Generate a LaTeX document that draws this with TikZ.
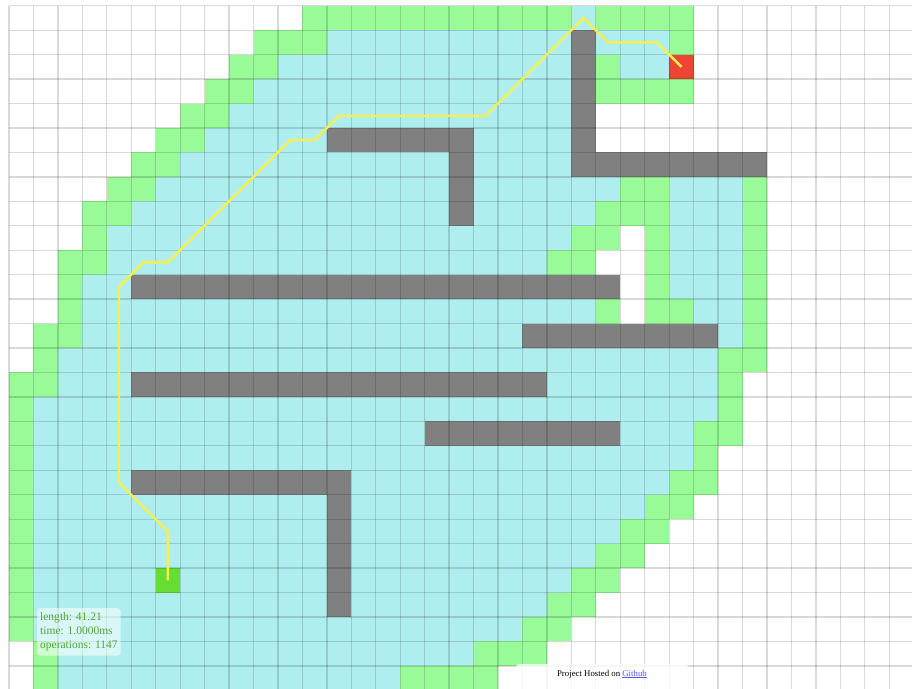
\documentclass[tikz,border=0pt]{standalone}
\usepackage{fontspec}
\setmainfont{Liberation Serif}
\usepackage{tikz}
\usetikzlibrary{positioning}
\definecolor{opengreen}{HTML}{98FB98}
\definecolor{closedcyan}{HTML}{AFEEEE}
\definecolor{wallgrey}{HTML}{808080}
\definecolor{startgreen}{HTML}{66DD33}
\definecolor{goalred}{HTML}{EE4433}
\definecolor{routeyellow}{RGB}{248,238,80}
\definecolor{infogreen}{RGB}{75,165,60}
\definecolor{linkblue}{RGB}{85,85,240}
\tikzset{
  opencell/.style={fill=opengreen},
  closedcell/.style={fill=closedcyan},
  wallcell/.style={fill=wallgrey},
  gridline/.style={draw=black,draw opacity=0.15,line width=1.3pt},
  route/.style={draw=routeyellow,line width=2.4pt},
  infobox/.style={fill=white,fill opacity=0.55,text opacity=1,rounded corners=3pt,
    align=left,text=infogreen,font=\fontsize{11.5}{14}\selectfont,inner xsep=3pt,inner ysep=4.5pt},
  footbox/.style={fill=white,fill opacity=0.8,text opacity=1,rounded corners=3pt,
    font=\fontsize{8.8}{10}\selectfont,minimum width=172pt,inner ysep=3pt,
    text height=9pt,text depth=16pt},
}

\begin{document}
\begin{tikzpicture}[x=24.45pt,y=-24.45pt]
\useasboundingbox (-0.368,-0.233) rectangle (36.93,27.906);
\clip (-0.368,-0.233) rectangle (36.93,27.906);

% closed list
\foreach \r/\a/\b in {0/23/23, 1/13/22, 1/24/26, 2/11/22, 2/25/26, 3/10/22, 4/9/22,
  5/8/12, 5/19/22, 6/7/17, 6/19/22, 7/6/17, 7/19/24, 7/27/29, 8/5/17, 8/19/23, 8/27/29,
  9/4/22, 9/27/29, 10/4/21, 10/27/29, 11/3/4, 11/27/29, 12/3/23, 12/28/29,
  13/3/20, 13/29/29, 14/2/28, 15/2/4, 15/22/28, 16/1/28, 17/1/16, 17/25/27, 18/1/27,
  19/1/4, 19/14/26, 20/1/12, 20/14/25, 21/1/12, 21/14/24, 22/1/12, 22/14/23,
  23/1/12, 23/14/22, 24/1/12, 24/14/21, 25/1/20, 26/2/18, 27/2/15}
  \fill[closedcell] (\a,\r) rectangle (\b+1,\r+1);

% open list
\foreach \r/\a/\b in {0/12/22, 0/24/27, 1/10/12, 1/27/27, 2/9/10, 2/24/24, 3/8/9, 3/24/27,
  4/7/8, 5/6/7, 6/5/6, 7/4/5, 7/25/26, 7/30/30, 8/3/4, 8/24/26, 8/30/30,
  9/3/3, 9/23/24, 9/26/26, 9/30/30, 10/2/3, 10/22/23, 10/26/26, 10/30/30,
  11/2/2, 11/26/26, 11/30/30, 12/2/2, 12/24/24, 12/26/27, 12/30/30,
  13/1/2, 13/30/30, 14/1/1, 14/29/30, 15/0/1, 15/29/29, 16/0/0, 16/29/29,
  17/0/0, 17/28/29, 18/0/0, 18/28/28, 19/0/0, 19/27/28, 20/0/0, 20/26/27,
  21/0/0, 21/25/26, 22/0/0, 22/24/25, 23/0/0, 23/23/24, 24/0/0, 24/22/23,
  25/0/0, 25/21/22, 26/1/1, 26/19/21, 27/1/1, 27/16/19}
  \fill[opencell] (\a,\r) rectangle (\b+1,\r+1);

% walls
\foreach \a/\r/\b/\s in {13/5/19/6, 18/6/19/9, 23/1/24/7, 24/6/31/7, 5/11/25/12,
  21/13/29/14, 5/15/22/16, 17/17/25/18, 5/19/14/20, 13/20/14/25}
  \fill[wallcell] (\a,\r) rectangle (\b,\s);

% start and goal
\fill[startgreen] (6,23) rectangle (7,24);
\fill[goalred] (27,2) rectangle (28,3);

% grid
\foreach \c in {0,...,37}
  \draw[gridline] (\c,0) -- (\c,28);
\foreach \r in {0,...,28}
  \draw[gridline] (0,\r) -- (37,\r);

% found path
\coordinate (start) at (6.5,23.5);
\coordinate (goal) at (27.5,2.5);
\draw[route] (start) -- (6.5,21.5) -- (4.5,19.5) -- (4.5,11.5) -- (5.5,10.5)
  -- (6.5,10.5) -- (11.5,5.5) -- (12.5,5.5) -- (13.5,4.5) -- (19.5,4.5)
  -- (23.5,0.5) -- (24.5,1.5) -- (26.5,1.5) -- (goal);

\node[infobox,anchor=north west] (stats) at (1.145,24.63)
  {length: 41.21\\time: 1.0000ms\\operations: 1147};
\node[footbox,anchor=base] (hosted) at (24.25,27.415)
  {Project Hosted on \textcolor{linkblue}{\underline{Github}}};
\end{tikzpicture}
\end{document}
